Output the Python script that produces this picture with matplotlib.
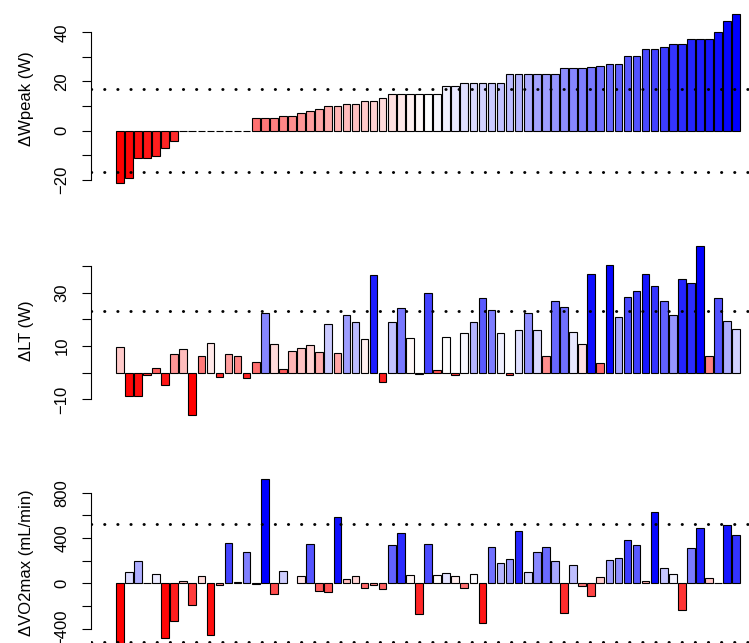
import numpy as np
import matplotlib
matplotlib.use("Agg")
import matplotlib.pyplot as plt
from matplotlib.colors import LinearSegmentedColormap

plt.rcParams['font.family'] = ['Liberation Sans', 'DejaVu Sans']
plt.rcParams['font.size'] = 12

# ---------------- data ----------------
wpeak = [-21.3, -19.2, -11.1, -11.1, -10.1, -7.0, -4.0,
         0, 0, 0, 0, 0, 0, 0, 0,
         5.0, 5.0, 5.0, 6.0, 6.0, 7.0, 8.0, 9.0, 10.0, 10.0, 11.0, 11.0,
         12.1, 12.1, 13.1, 15.0, 15.0, 15.0, 15.0,
         15.0, 15.0, 18.1, 18.1, 19.2, 19.2, 19.2, 19.2, 19.2,
         23.2, 23.2, 23.2, 23.2, 23.2, 23.2, 25.3, 25.3, 25.3, 25.7, 26.2,
         27.3, 27.3, 30.3, 30.3, 33.3, 33.3, 34.2, 35.3, 35.3,
         37.3, 37.3, 37.3, 40.3, 44.4, 47.4]

lt = [9.6, -8.6, -8.6, -0.75, 1.75, -4.6, 6.9, 8.9, -15.75, 6.1,
      11.1, -1.6, 7.0, 6.4, -1.9, 4.1, 22.5, 10.75, 1.5, 8.25,
      9.25, 10.25, 7.75, 18.4, 7.25, 21.6, 19.1, 12.6, 36.75, -3.4,
      19.0, 24.25, 13.0, -0.6, 29.75, 1.0, 13.5, -0.75, 14.75, 19.1,
      27.9, 23.6, 14.75, -0.75, 16.0, 22.4, 16.1, 6.4, 27.0, 24.5,
      15.4, 10.75, 37.1, 3.75, 40.5, 21.0, 28.5, 30.6, 36.9, 32.6,
      27.0, 21.75, 35.0, 33.75, 47.6, 6.25, 28.1, 19.25, 16.4]

vo2max = [-563, 100, 197, 2, 85, -485, -329, 21, -191, 65,
          -453, -18, 356, 9, 276, -3, 921, -91, 112, np.nan,
          68, 344, -65, -74, 585, 35, 62, -44, -12, -50,
          335, 444, 76, -268, 344, 76, 94, 68, -41, 79,
          -347, 318, 176, 218, 462, 103, 274, 318, 200, -259,
          159, -24, -112, 56, 209, 226, 379, 335, 18, 629,
          132, 79, -235, 312, 491, 47, 3, 512, 429]

labels = ['\u0394Wpeak (W)', '\u0394LT (W)', '\u0394VO2max (mL/min)']
thresholds = [16.8, 23.2, 520]
major_ticks = [[-20, 0, 20, 40], [-10, 10, 30], [-400, 0, 400, 800]]
minor_ticks = [[-10, 10, 30], [0, 20, 40], [-200, 200, 600]]

# ---------------- plotting ----------------
cmap = LinearSegmentedColormap.from_list('rwb', ['red', 'white', 'blue'])


def rank_colors(vals):
    v = np.asarray(vals, float)
    ok = ~np.isnan(v)
    n = ok.sum()
    order = np.argsort(np.where(ok, v, np.inf), kind='stable')
    ranks = np.empty(len(v), int)
    ranks[order] = np.arange(len(v))
    return [cmap(r / (n - 1)) if ok[i] else (1, 1, 1, 0) for i, r in enumerate(ranks)]


W, H = 749, 643
fig = plt.figure(figsize=(W / 100, H / 100), dpi=100)

boxes = [(7.3, 189.9), (239.1, 421.5), (472.3, 653.8)]
x_left, x_right = 91, 765

for k, vals in enumerate([wpeak, lt, vo2max]):
    top, bot = boxes[k]
    ax = fig.add_axes([x_left / W, 1 - bot / H, (x_right - x_left) / W, (bot - top) / H])
    v = np.asarray(vals, float)
    x = np.arange(len(v))
    bw = 1 / 1.2
    ax.bar(x, v, width=bw, color=rank_colors(v), edgecolor='black', linewidth=0.8, zorder=2)
    # R-like axis ranges (4% padding)
    xlo, xhi = -bw / 2, len(v) - 1 + bw / 2
    xr = xhi - xlo
    ax.set_xlim(xlo - 0.04 * xr, xhi + 0.04 * xr)
    ylo = min(0, np.nanmin(v))
    yhi = max(0, np.nanmax(v))
    yr = yhi - ylo
    ax.set_ylim(ylo - 0.04 * yr, yhi + 0.04 * yr)

    t = thresholds[k]
    for yv in (t, -t):
        ax.axhline(yv, color='black', linestyle=(0, (0.1, 4.4)), linewidth=2.1,
                   dash_capstyle='round', zorder=3)

    for s in ['top', 'right', 'bottom']:
        ax.spines[s].set_visible(False)
    allt = sorted(major_ticks[k] + minor_ticks[k])
    ax.spines['left'].set_bounds(allt[0], allt[-1])
    ax.spines['left'].set_linewidth(0.8)
    ax.set_xticks([])
    ax.set_yticks(major_ticks[k])
    ax.set_yticklabels([str(m).replace('-', '\u2212') for m in major_ticks[k]])
    ax.set_yticks(minor_ticks[k], minor=True)
    ax.tick_params(axis='y', which='both', direction='out', length=6.5, width=0.8)
    ax.tick_params(axis='y', which='major', labelrotation=90, pad=14.4, labelsize=12)
    for lbl in ax.get_yticklabels():
        lbl.set_ha('center')
        lbl.set_va('center')
    ax.text((26 - x_left) / (x_right - x_left), 0.5, labels[k], rotation=90,
            ha='center', va='center', transform=ax.transAxes, fontsize=12)
    ax.patch.set_visible(False)

fig.savefig('out.png', dpi=100)
